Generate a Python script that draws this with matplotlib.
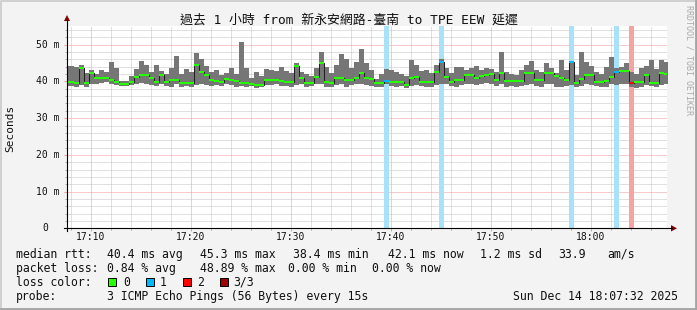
import numpy as np
import matplotlib
matplotlib.use('Agg')
import matplotlib.pyplot as plt
from matplotlib.patches import Polygon, Rectangle

# ---- data (ms), one value per 30 s step, starting 17:07:18 ----
t0 = 7.3      # minutes after 17:00
step = 0.5    # minutes

median_ms = [
    39.8,
    39.8, 39.6, 43.6, 39.6, 42.2, 40.9, 40.9, 41.0, 40.3, 39.9,
    39.3, 39.3, 39.9, 41.3, 41.8, 41.8, 40.9, 39.9, 41.8, 39.9,
    40.3, 40.3, 39.5, 39.6, 39.5, 44.6, 42.7, 41.8, 40.3, 40.0,
    39.9, 40.6, 40.5, 40.0, 39.6, 39.6, 39.3, 39.0, 39.0, 40.5,
    40.5, 40.5, 40.2, 39.9, 39.9, 44.3, 41.0, 39.5, 39.5, 41.3,
    44.9, 39.9, 39.5, 40.9, 40.9, 40.3, 40.3, 40.9, 42.2, 40.9,
    40.6, 39.5, 39.5,
    40.2, 39.9, 39.9, 39.9, 39.0, 40.9, 41.3, 39.9, 39.9, 39.9,
    42.5, 45.4, 41.3, 39.9, 40.3, 40.3, 41.8, 41.8, 40.9, 41.5,
    41.8, 42.0, 40.5, 42.2, 40.0, 40.0, 40.0, 40.0, 42.2, 42.2,
    40.3, 40.3, 42.2, 42.2, 41.5, 40.9, 40.3, 45.2, 39.6, 40.6,
    41.8, 41.8, 39.9, 39.9, 40.0, 41.3, 42.6, 42.9, 42.9, 39.5,
    39.9, 39.9, 41.8, 39.5, 39.5, 42.2, 42.1,
]
min_ms = [
    38.8,
    38.8, 38.6, 39.0, 38.4, 39.2, 39.4, 39.6, 39.8, 39.2, 39.0,
    38.8, 38.8, 39.0, 39.4, 39.6, 39.4, 39.0, 38.8, 39.2, 38.8,
    38.6, 39.2, 38.6, 38.8, 38.4, 39.0, 39.4, 39.0, 38.8, 39.0,
    38.8, 39.2, 39.0, 38.6, 38.8, 38.6, 38.8, 38.2, 38.4, 39.0,
    39.0, 39.4, 38.8, 38.8, 38.6, 39.0, 39.2, 38.6, 38.8, 39.2,
    39.4, 38.6, 38.4, 39.0, 39.2, 38.6, 39.0, 39.2, 39.4, 39.0,
    38.8, 38.6, 38.4,
    39.2, 38.8, 38.6, 38.8, 38.2, 38.8, 39.0, 38.8, 38.6, 38.4,
    39.0, 39.4, 39.2, 38.8, 38.6, 39.0, 39.4, 39.2, 39.0, 39.4,
    39.6, 39.4, 38.8, 39.2, 38.6, 38.8, 38.6, 38.8, 39.0, 39.2,
    38.8, 38.6, 39.4, 39.2, 38.6, 38.4, 38.8, 39.0, 38.6, 38.8,
    39.4, 39.0, 38.8, 38.4, 38.6, 39.2, 39.0, 39.4, 39.2, 38.4,
    38.2, 38.6, 39.0, 38.8, 38.6, 39.0, 39.2,
]
max_ms = [
    44.2,
    44.2, 44.0, 44.6, 42.4, 43.2, 42.0, 43.0, 42.6, 45.4, 43.8,
    40.2, 40.0, 41.6, 43.4, 45.6, 44.4, 42.6, 44.6, 42.8, 42.0,
    43.6, 46.9, 42.0, 43.4, 42.6, 47.7, 46.0, 44.2, 42.6, 43.0,
    41.8, 42.4, 43.6, 42.0, 50.8, 43.8, 41.0, 42.6, 41.4, 43.4,
    43.0, 42.8, 44.0, 42.9, 42.4, 45.0, 42.6, 42.0, 41.6, 43.6,
    48.1, 44.0, 42.4, 44.4, 47.4, 46.2, 43.6, 45.2, 48.8, 45.0,
    43.0, 40.6, 42.0,
    43.4, 43.0, 42.6, 42.0, 41.4, 45.9, 44.6, 42.8, 43.0, 42.4,
    44.4, 46.0, 43.6, 42.4, 44.0, 44.0, 43.2, 43.6, 44.2, 43.0,
    43.8, 43.4, 42.6, 48.1, 42.6, 42.0, 41.8, 43.0, 44.4, 45.7,
    43.2, 42.6, 45.0, 43.8, 42.4, 45.9, 43.0, 45.6, 41.8, 48.1,
    45.4, 44.2, 42.6, 42.0, 44.0, 46.8, 43.6, 44.0, 45.0, 42.6,
    42.0, 43.6, 44.2, 45.9, 43.4, 45.9, 45.4,
]
# steps with packet loss: step index and number of lost pings
loss_step = [64, 75, 101, 110, 113]
loss_count = [1, 1, 1, 1, 2]

time_ticks = [10, 20, 30, 40, 50, 60]
time_labels = ['17:10', '17:20', '17:30', '17:40', '17:50', '18:00']
y_ticks = [0, 10, 20, 30, 40, 50]
y_labels = ['0', '10 m', '20 m', '30 m', '40 m', '50 m']

loss_colors = ['#26ff00', '#00b8ff', '#ff0000', '#a00000']
band_colors = {1: '#a8e2f8', 2: '#f5a3a3', 3: '#d08080'}

W, H = 697, 310
mono = 'DejaVu Sans Mono'

fig = plt.figure(figsize=(W / 100, H / 100), dpi=100)
fig.patch.set_facecolor('#f3f3f3')

px_left, px_right, px_top, px_bottom = 67, 667, 26.4, 228.3
ax = fig.add_axes([px_left / W, 1 - px_bottom / H,
                   (px_right - px_left) / W, (px_bottom - px_top) / H])
ax.set_facecolor('white')

med = np.array(median_ms)
lo = np.array(min_ms)
hi = np.array(max_ms)
n = len(med)
edges = t0 + step * np.arange(n + 1)
loss = np.zeros(n, dtype=int)
loss[loss_step] = loss_count

# loss background bands
for i, c in zip(loss_step, loss_count):
    ax.axvspan(edges[i], edges[i + 1], color=band_colors[c], lw=0, zorder=2)

# smoke
ax.fill_between(edges, np.append(lo, lo[-1]), np.append(hi, hi[-1]),
                step='post', color='#767676', lw=0, zorder=3)
# median
ax.step(edges, np.append(med, med[-1]), where='post', color='#202020',
        lw=0.75, zorder=4)
ax.hlines(med, edges[:-1], edges[1:], colors=[loss_colors[l] for l in loss],
          lw=1.5, zorder=5)

ax.set_xlim(7.6, 67.6)
ax.set_ylim(0, 55)
ax.set_xticks(time_ticks)
ax.set_xticks(np.arange(8, 67, 2), minor=True)
ax.set_yticks(y_ticks)
ax.set_yticks(np.arange(0, 55, 2), minor=True)
ax.set_axisbelow(True)
ax.grid(which='minor', color='#c2c2c2', ls=(0, (1, 1)), lw=0.72)
ax.grid(which='major', color='#f09898', ls=(0, (1, 1)), lw=0.72)
ax.tick_params(labelleft=False, labelbottom=False)
ax.tick_params(which='major', length=2.5, width=0.72, color='#f09898')
ax.tick_params(which='minor', length=1.5, width=0.72, color='#a8a8a8')
for s in ax.spines.values():
    s.set_visible(False)

# overlay in pixel coordinates
ov = fig.add_axes([0, 0, 1, 1], zorder=10)
ov.set_xlim(0, W)
ov.set_ylim(H, 0)
ov.axis('off')
ov.patch.set_alpha(0)

# frame
ov.plot([1, 1, W - 1], [H - 1, 1, 1], color='#d0d0d0', lw=1.4)
ov.plot([1, W - 1.5, W - 1.5], [H - 1.5, H - 1.5, 1], color='#a4a4a4', lw=2)

# axes with arrows
ov.plot([px_left, px_left], [px_bottom + 3, 20], color='black', lw=0.8)
ov.plot([px_left - 3, 672], [px_bottom, px_bottom], color='black', lw=0.8)
ov.add_patch(Polygon([[px_left - 3, 21], [px_left + 3, 21], [px_left, 15]],
                     color='#800000', lw=0))
ov.add_patch(Polygon([[671, px_bottom - 3.2], [671, px_bottom + 3.2],
                      [677, px_bottom]], color='#800000', lw=0))

# title and side texts
ov.text(348.5, 20.5, '過去 1 小時 from 新永安網路-臺南 to TPE EEW 延遲',
        family=[mono, 'Noto Sans CJK TC'], fontsize=9.3,
        ha='center', va='center', color='#111111')
ov.text(10, 128, 'Seconds', family=mono, fontsize=8, rotation=90,
        ha='center', va='center', color='#111111')
ov.text(688.5, 60, 'RRDTOOL / TOBI OETIKER', family=mono, fontsize=6,
        rotation=270, ha='center', va='center', color='#aaaaaa')

# tick labels
for v, lab in zip(y_ticks, y_labels):
    yp = px_bottom - (px_bottom - px_top) * v / 55
    if lab == '0':
        ov.text(45, yp, lab, family=mono, fontsize=7, ha='center',
                va='center', color='#111111')
    else:
        ov.text(60, yp, lab, family=mono, fontsize=7, ha='right',
                va='center', color='#111111')
for v, lab in zip(time_ticks, time_labels):
    xp = px_left + (px_right - px_left) * (v - 7.6) / 60
    ov.text(xp, 237, lab, family=mono, fontsize=7, ha='center',
            va='center', color='#111111')

# legend
fs = 8.3
rows = [
    (254.3, [(16, 'median rtt:'), (107, '40.4 ms avg'), (200, '45.3 ms max'),
             (292.7, '38.4 ms min'), (387.7, '42.1 ms now'),
             (480, '1.2 ms sd'), (558.3, '33.9'), (607.7, 'am/s')]),
    (268.3, [(16, 'packet loss:'), (107, '0.84 % avg'), (200, '48.89 % max'),
             (288, '0.00 % min'), (372.3, '0.00 % now')]),
    (282.3, [(16, 'loss color:'), (123, '0'), (160, '1'), (197.6, '2'),
             (233, '3/3')]),
    (296.3, [(16, 'probe:'), (107, '3 ICMP Echo Pings (56 Bytes) every 15s'),
             (513.3, 'Sun Dec 14 18:07:32 2025')]),
]
for y, items in rows:
    for x, s in items:
        ov.text(x, y, s, family=mono, fontsize=fs, ha='left', va='center',
                color='#111111')
for x, c in zip([108, 145.5, 183, 219.5], loss_colors):
    ov.add_patch(Rectangle((x, 278.3), 8, 8, facecolor=c,
                           edgecolor='black', lw=0.7))

fig.savefig('out.png', dpi=100, facecolor=fig.get_facecolor())
